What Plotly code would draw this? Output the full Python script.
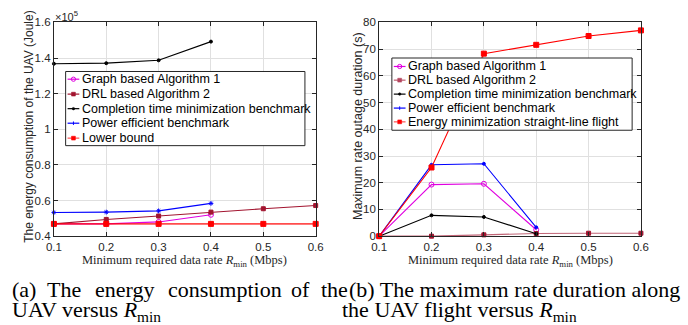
import plotly.graph_objects as go

W, H = 688, 325

# ---------------- data ----------------
rmin = [0.1, 0.2, 0.3, 0.4, 0.5, 0.6]

# (a) energy consumption (Joule)
a_graph = [46900, 46900, 48000, 52000]
a_drl = [46900, 49400, 51300, 53500, 55400, 57200]
a_completion = [136800, 137100, 138700, 149200]
a_power = [53300, 53500, 54200, 58400]
a_lower = [46900, 46900, 46900, 46900, 46900, 46900]

# (b) maximum rate outage duration (s)
b_graph = [0, 19.3, 19.6, 2.4]
b_drl = [0, 0, 0.5, 1.0, 1.1, 1.1]
b_completion = [0, 7.8, 7.2, 0.9]
b_power = [0, 26.7, 27.1, 3.3]
b_straight = [0, 25.7, 68.3, 71.6, 74.9, 77.0]

x_ticks = [0.1, 0.2, 0.3, 0.4, 0.5, 0.6]
a_yticks = [0.4, 0.6, 0.8, 1.0, 1.2, 1.4, 1.6]
a_yticktext = ["0.4", "0.6", "0.8", "1", "1.2", "1.4", "1.6"]
b_yticks = [0, 10, 20, 30, 40, 50, 60, 70, 80]

legend_a = ["Graph based Algorithm 1", "DRL based Algorithm 2",
            "Completion time minimization benchmark", "Power efficient benchmark",
            "Lower bound"]
legend_b = ["Graph based Algorithm 1", "DRL based Algorithm 2",
            "Completion time minimization benchmark", "Power efficient benchmark",
            "Energy minimization straight-line flight"]

MAG = "#E000E0"
DRL = "#A2142F"
DRL_B = "rgba(162,20,47,0.65)"
BLK = "#000000"
BLU = "#0000FF"
RED = "#FF0000"
LB = "rgba(255,0,0,0.7)"
AX = "#262626"


def px(x):
    return x / W


def py(y):
    return 1 - y / H


fig = go.Figure()

scale = 1e5


def add(x, y, color, sym, size, xa, ya, mcolor=None, lw=1.1):
    mcolor = mcolor or color
    marker = dict(symbol=sym, size=size, color=mcolor,
                  line=dict(color=mcolor, width=1))
    fig.add_trace(go.Scatter(x=x, y=y, mode="lines+markers", xaxis=xa, yaxis=ya,
                             line=dict(color=color, width=lw), marker=marker,
                             cliponaxis=False, showlegend=False))


# subplot (a)
add(rmin[:4], [v / scale for v in a_graph], MAG, "circle-open", 5, "x", "y")
add(rmin, [v / scale for v in a_drl], DRL, "square", 4, "x", "y")
add(rmin[:4], [v / scale for v in a_completion], BLK, "circle", 3, "x", "y")
add(rmin[:4], [v / scale for v in a_power], BLU, "asterisk-open", 4, "x", "y")
add(rmin, [v / scale for v in a_lower], LB, "square", 5, "x", "y", mcolor=RED, lw=1.6)

# subplot (b)
add(rmin[:4], b_graph, MAG, "circle-open", 5, "x2", "y2")
add(rmin, b_drl, DRL_B, "square", 4, "x2", "y2", mcolor=DRL)
add(rmin[:4], b_completion, BLK, "circle", 3, "x2", "y2")
add(rmin[:4], b_power, BLU, "circle", 3, "x2", "y2")
add(rmin, b_straight, RED, "square", 5, "x2", "y2")

tickfont = dict(family="Liberation Sans, Arial", size=11.5, color=AX)
common_x = dict(range=[0.1, 0.6], tickvals=x_ticks, ticktext=[f"{v:.1f}" for v in x_ticks],
                showgrid=True, gridcolor="#E0E0E0", gridwidth=1, zeroline=False,
                showline=True, linecolor=AX, linewidth=1, mirror="allticks",
                ticks="inside", ticklen=4, tickcolor=AX, tickfont=tickfont)
common_y = dict(showgrid=True, gridcolor="#E0E0E0", gridwidth=1, zeroline=False,
                showline=True, linecolor=AX, linewidth=1, mirror="allticks",
                ticks="inside", ticklen=4, tickcolor=AX, tickfont=tickfont)

ydom = [py(239), py(17)]
fig.update_layout(
    width=W, height=H, margin=dict(l=0, r=0, t=0, b=0),
    paper_bgcolor="white", plot_bgcolor="white", showlegend=False,
    xaxis=dict(domain=[px(47), px(315)], anchor="y", **common_x),
    yaxis=dict(domain=ydom, anchor="x", range=[0.4, 1.6], tickvals=a_yticks,
               ticktext=a_yticktext, **common_y),
    xaxis2=dict(domain=[px(380), px(648)], anchor="y2", **common_x),
    yaxis2=dict(domain=ydom, anchor="x2", range=[0, 80], tickvals=b_yticks, **common_y),
)

shapes = []
ann = []


def legend(x0, y0, x1, y1, labels, colors, kinds, ys, lx0, lx1, tx, fs):
    shapes.append(dict(type="rect", xref="paper", yref="paper", x0=px(x0), x1=px(x1),
                       y0=py(y1), y1=py(y0), fillcolor="white",
                       line=dict(color=AX, width=1), layer="above"))
    for lab, col, kind, yy in zip(labels, colors, kinds, ys):
        lc, mc = col
        shapes.append(dict(type="line", xref="paper", yref="paper", x0=px(lx0), x1=px(lx1),
                           y0=py(yy), y1=py(yy), line=dict(color=lc, width=1.2), layer="above"))
        cx = (lx0 + lx1) / 2
        if kind == "circle":
            r = 2.2
            shapes.append(dict(type="circle", xref="paper", yref="paper", x0=px(cx - r), x1=px(cx + r),
                               y0=py(yy + r), y1=py(yy - r), line=dict(color=mc, width=1),
                               fillcolor="rgba(0,0,0,0)", layer="above"))
        elif kind == "square":
            r = 2
            shapes.append(dict(type="rect", xref="paper", yref="paper", x0=px(cx - r), x1=px(cx + r),
                               y0=py(yy + r), y1=py(yy - r), line=dict(color=mc, width=0.5),
                               fillcolor=mc, layer="above"))
        elif kind == "dot":
            r = 1.3
            shapes.append(dict(type="circle", xref="paper", yref="paper", x0=px(cx - r), x1=px(cx + r),
                               y0=py(yy + r), y1=py(yy - r), line=dict(color=mc, width=0.5),
                               fillcolor=mc, layer="above"))
        elif kind == "plus":
            r = 1.8
            shapes.append(dict(type="line", xref="paper", yref="paper", x0=px(cx), x1=px(cx),
                               y0=py(yy + r), y1=py(yy - r), line=dict(color=mc, width=1), layer="above"))
        ann.append(dict(x=px(tx), y=py(yy), xref="paper", yref="paper", xanchor="left",
                        yanchor="middle", showarrow=False, text=lab,
                        font=dict(family="Liberation Sans, Arial", size=fs, color="#000")))


legend(59, 68, 304, 145, legend_a,
       [(MAG, MAG), (DRL, DRL), (BLK, BLK), (BLU, BLU), ("rgb(255,80,80)", RED)],
       ["circle", "square", "dot", "plus", "square"],
       [76, 91.5, 106.6, 121.7, 137.2], 61, 73, 73.5, 12.5)
legend(393, 54, 639, 129, legend_b,
       [(MAG, MAG), ("rgb(190,90,110)", "rgb(180,70,95)"), (BLK, BLK), (BLU, BLU), ("rgb(255,80,80)", RED)],
       ["circle", "square", "dot", "plus", "square"],
       [62.8, 77, 91.5, 106, 120.3], 395, 407, 407.5, 12.5)

# exponent
ann.append(dict(x=px(46), y=py(10), xref="paper", yref="paper", xanchor="left", yanchor="middle",
                showarrow=False, text="×10<sup>5</sup>",
                font=dict(family="Liberation Sans, Arial", size=11, color=AX)))

# y titles
ann.append(dict(x=px(22), y=py(125), xref="paper", yref="paper", xanchor="center", yanchor="middle",
                showarrow=False, textangle=-90, text="The energy consumption of the UAV (Joule)",
                font=dict(family="Liberation Sans, Arial", size=12, color=AX)))
ann.append(dict(x=px(359), y=py(125), xref="paper", yref="paper", xanchor="center", yanchor="middle",
                showarrow=False, textangle=-90, text="Maximum rate outage duration (s)",
                font=dict(family="Liberation Sans, Arial", size=12.5, color=AX)))

# x titles
xt = "Minimum required data rate <i>R</i><sub>min</sub> (Mbps)"
for cx in (181, 514):
    ann.append(dict(x=px(cx), y=py(265), xref="paper", yref="paper", xanchor="center", yanchor="middle",
                    showarrow=False, text=xt,
                    font=dict(family="Liberation Serif, Times New Roman", size=12.5, color=AX)))

# captions
capfont = dict(family="Liberation Serif, Times New Roman", size=22, color="#000")
line1_words = [("(a)", 2), ("The", 38), ("energy", 87), ("consumption", 162), ("of", 288),
               ("the", 318)]
for w, x in line1_words:
    ann.append(dict(x=px(x), y=py(294), xref="paper", yref="paper", xanchor="left", yanchor="middle",
                    showarrow=False, text=w, font=capfont))
ann.append(dict(x=px(347), y=py(294), xref="paper", yref="paper", xanchor="left", yanchor="middle",
                showarrow=False, text="(b) The maximum rate duration along", font=capfont))
ann.append(dict(x=px(2), y=py(317), xref="paper", yref="paper", xanchor="left", yanchor="middle",
                showarrow=False, text="UAV versus <i>R</i><sub>min</sub>", font=capfont))
ann.append(dict(x=px(340), y=py(317), xref="paper", yref="paper", xanchor="left", yanchor="middle",
                showarrow=False, text="the UAV flight versus <i>R</i><sub>min</sub>", font=capfont))

fig.update_layout(shapes=shapes, annotations=ann)
fig.write_html("out.html")
